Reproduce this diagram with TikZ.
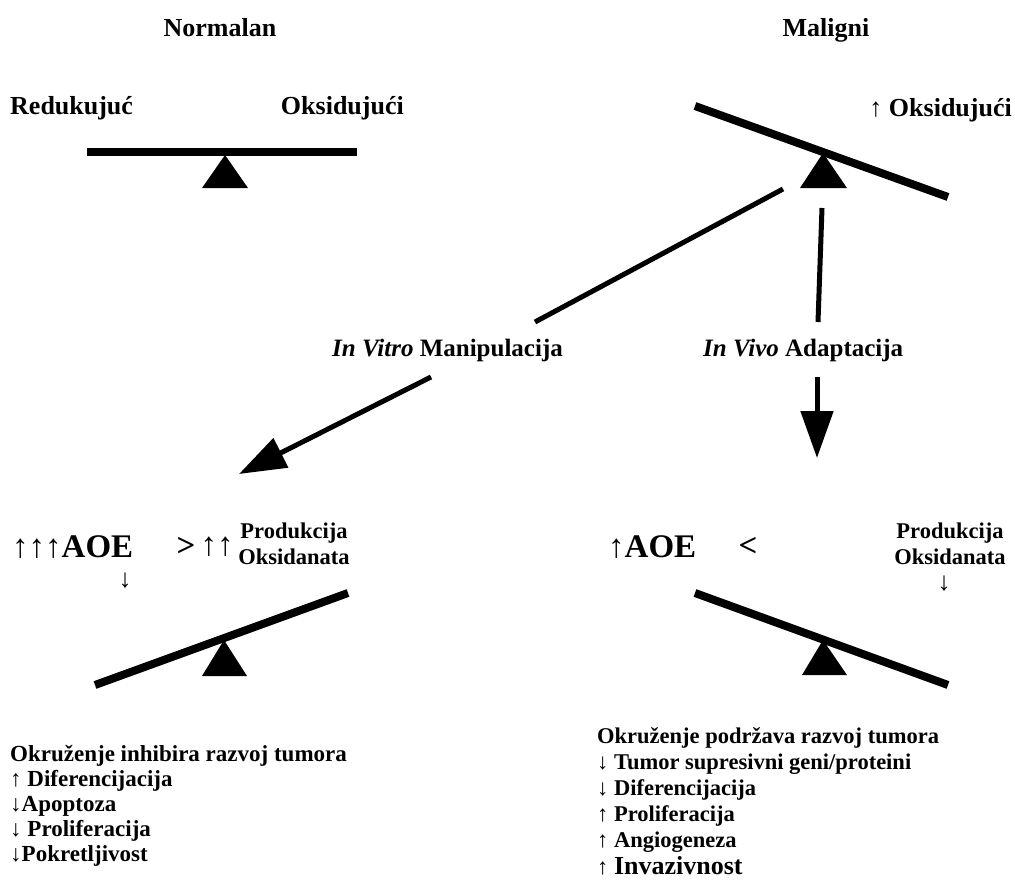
\documentclass[tikz,border=0pt]{standalone}
\usepackage{fontspec}
\setmainfont{Liberation Serif}
\usetikzlibrary{arrows.meta}
\begin{document}
\begin{tikzpicture}[x=1pt,y=-1pt,
    lbl/.style = {font=\fontsize{26}{28}\selectfont\bfseries, inner sep=0pt},
    mid/.style = {font=\fontsize{25}{27}\selectfont\bfseries, inner sep=0pt, anchor=west},
    big/.style = {font=\fontsize{33}{35}\selectfont\bfseries, inner sep=0pt},
    prod/.style = {font=\fontsize{22.5}{26}\selectfont\bfseries, inner sep=0pt, align=center},
    list/.style = {font=\fontsize{23}{25}\selectfont\bfseries, inner sep=0pt, align=left, anchor=north west},
    beam/.style = {line width=8pt},
    link/.style = {line width=5pt},
    bigarrow/.style = {line width=5pt, -{Triangle[length=47pt,width=32pt]}}]
        \useasboundingbox (0,0) rectangle (1015,891);
        % titles
        \node[lbl, anchor=base] (norm) at (220,37) {Normalan};
        \node[lbl, anchor=base] (mal) at (826,37) {Maligni};
        % top balances
        \node[lbl, anchor=base west] (red) at (10,114) {Redukujuć};
        \node[lbl, anchor=base east] (oks) at (404,114) {Oksidujući};
        \node[lbl, anchor=base east] (oksm) at (1012,116) {↑ Oksidujući};
        \draw[beam] (87,152) -- (357,152);
        \fill (225,155) -- (248,188) -- (202,188) -- cycle;
        \draw[beam] (695,106) -- (948,197);
        \fill (823,153) -- (847,188) -- (800,188) -- cycle;
        % paths
        \coordinate (p1) at (783,189);
        \coordinate (p2) at (535,322);
        \coordinate (p3) at (431,377);
        \coordinate (p4) at (239,474);
        \coordinate (q1) at (822,208);
        \coordinate (q2) at (818,322);
        \coordinate (q3) at (817,377);
        \coordinate (q4) at (817,458);
        \node[mid] (vitro) at (332,350) {\textit{In Vitro} Manipulacija};
        \node[mid] (vivo) at (703,350) {\textit{In Vivo} Adaptacija};
        \draw[link] (p1) -- (p2);
        \draw[bigarrow] (p3) -- (p4);
        \draw[link] (q1) -- (q2);
        \draw[bigarrow] (q3) -- (q4);
        % lower left
        \node[big, anchor=west] (aoe1) at (12,547) {↑↑↑AOE};
        \node[big] (gt) at (186,547) {>};
        \node[big] (up2) at (217,547) {↑↑};
        \node[prod] (prod1) at (294,544) {Produkcija\\Oksidanata};
        \node[lbl] (dn1) at (125,581) {↓};
        \draw[beam] (95,685) -- (348,593);
        \fill (224,640) -- (247,676) -- (202,676) -- cycle;
        % lower right
        \node[big, anchor=west] (aoe2) at (608,547) {↑AOE};
        \node[big] (lt) at (748,547) {<};
        \node[prod] (prod2) at (950,544) {Produkcija\\Oksidanata};
        \node[lbl] (dn2) at (944,584) {↓};
        \draw[beam] (695,593) -- (948,685);
        \fill (823,640) -- (847,675) -- (802,675) -- cycle;
        % effects
        \node[list] (inh) at (10,745) {Okruženje inhibira razvoj tumora\\↑ Diferencijacija\\↓Apoptoza\\↓ Proliferacija\\↓Pokretljivost};
        \node[list, font=\fontsize{22.5}{26.2}\selectfont\bfseries] (pod) at (597,727) {Okruženje podržava razvoj tumora\\↓ Tumor supresivni geni/proteini\\↓ Diferencijacija\\↑ Proliferacija\\↑ Angiogeneza\\↑ {\fontsize{26}{26.2}\selectfont Invazivnost}};
    \end{tikzpicture}
\end{document}
